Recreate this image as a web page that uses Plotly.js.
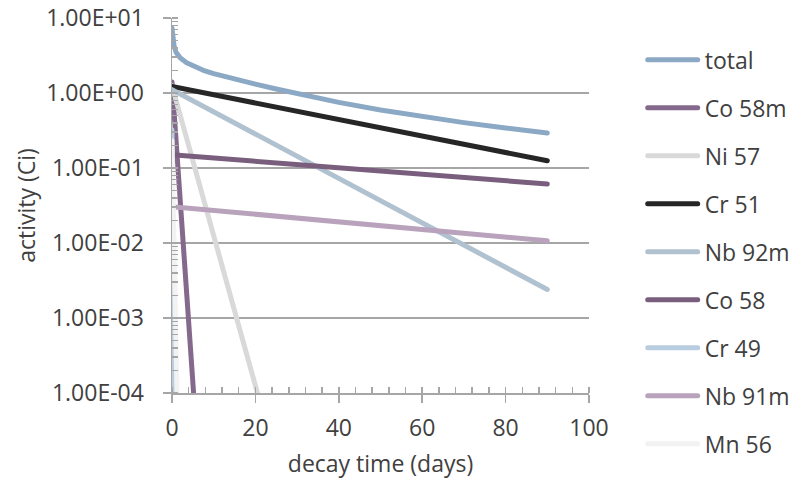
<!DOCTYPE html>
<html>
<head>
<meta charset="utf-8">
<script src="https://cdn.plot.ly/plotly-3.0.1.min.js"></script>
<style>
  html, body { margin: 0; padding: 0; background: #ffffff; }
  #chart { width: 796px; height: 483px; }
  .scatterlayer .js-line, .legendlines path { stroke-linecap: round; stroke-linejoin: round; }
</style>
</head>
<body>
<div id="chart"></div>
<script>
// Activity of each nuclide (Ci) against decay time (days)
const totalDays = [0, 0.25, 0.5, 1, 2, 3.5, 5, 7.5, 10, 15, 20, 25, 30, 40, 50, 60, 70, 80, 90];
const totalCi   = [7.36, 5.01, 4.22, 3.47, 2.92, 2.53, 2.30, 2.01, 1.81, 1.52, 1.31, 1.13, 0.977, 0.750, 0.594, 0.484, 0.403, 0.341, 0.293];

const co58mDays = [0, 1, 2, 3, 4, 5, 6];
const co58mCi   = [1.4, 0.22, 0.035, 0.0056, 0.00088, 0.00014, 0.000022];

const ni57Days = [0, 5, 10, 15, 20, 25];
const ni57Ci   = [1.25, 0.125, 0.0125, 0.00125, 0.000125, 0.0000125];

const cr51Days = [0, 30, 60, 90];
const cr51Ci   = [1.22, 0.571, 0.267, 0.125];

const nb92mDays = [0, 30, 60, 90];
const nb92mCi   = [1.11, 0.1435, 0.0186, 0.0024];

const co58Days = [0, 30, 60, 90];
const co58Ci   = [0.150, 0.111, 0.083, 0.0612];

const cr49Days = [0, 0.1, 0.2, 0.3, 0.4];
const cr49Ci   = [0.32, 0.031, 0.003, 0.00029, 0.000028];

const nb91mDays = [0, 30, 60, 90];
const nb91mCi   = [0.0305, 0.0216, 0.0152, 0.0107];

const mn56Days = [0, 0.5, 1, 1.5];
const mn56Ci   = [0.23, 0.0091, 0.00036, 0.0000145];

const seriesNames  = ['total', 'Co 58m', 'Ni 57', 'Cr 51', 'Nb 92m', 'Co 58', 'Cr 49', 'Nb 91m', 'Mn 56'];
const seriesColors = ['#8ba9c5', '#85698c', '#d9d9d9', '#262626', '#b0c1d0', '#7a5e7e', '#b9cde1', '#b9a3bc', '#f2f2f2'];
const seriesX = [totalDays, co58mDays, ni57Days, cr51Days, nb92mDays, co58Days, cr49Days, nb91mDays, mn56Days];
const seriesY = [totalCi, co58mCi, ni57Ci, cr51Ci, nb92mCi, co58Ci, cr49Ci, nb91mCi, mn56Ci];

const yTickVals = [1e-4, 1e-3, 1e-2, 1e-1, 1e0, 1e1];
const yTickText = ['1.00E-04', '1.00E-03', '1.00E-02', '1.00E-01', '1.00E+00', '1.00E+01'];
const xTickVals = [0, 20, 40, 60, 80, 100];

const FONT = 'Open Sans, sans-serif';
const TEXT = '#404040';
const AXIS = '#a6a6a6';

const traces = seriesNames.map((name, i) => ({
  type: 'scatter',
  mode: 'lines',
  name: name,
  legendgroup: 'g' + i,
  x: seriesX[i],
  y: seriesY[i],
  line: { color: seriesColors[i], width: 5 },
  hoverinfo: 'x+y+name'
}));

const layout = {
  width: 796,
  height: 483,
  margin: { l: 172, r: 207, t: 18, b: 90, pad: 0, autoexpand: false },
  paper_bgcolor: '#ffffff',
  plot_bgcolor: '#ffffff',
  font: { family: FONT, size: 23, color: TEXT },
  showlegend: true,
  legend: {
    x: 1.124, xanchor: 'left',
    y: 0.9457, yanchor: 'top',
    traceorder: 'grouped',
    tracegroupgap: 15.1,
    itemwidth: 54,
    maxheight: 470,
    bgcolor: 'rgba(0,0,0,0)',
    borderwidth: 0,
    font: { family: FONT, size: 23, color: TEXT }
  },
  xaxis: {
    range: [0, 100],
    tickmode: 'array',
    tickvals: xTickVals,
    ticks: 'outside',
    ticklen: 8,
    tickwidth: 1.5,
    tickcolor: AXIS,
    ticklabelstandoff: 6,
    showline: true,
    linecolor: AXIS,
    linewidth: 1.5,
    showgrid: false,
    zeroline: false,
    minor: { ticks: 'inside', dtick: 4, ticklen: 6, tickwidth: 1.5, tickcolor: AXIS, showgrid: false },
    title: { text: 'decay time (days)', font: { family: FONT, size: 23, color: TEXT }, standoff: 14 },
    tickfont: { family: FONT, size: 23, color: TEXT }
  },
  yaxis: {
    type: 'log',
    range: [-4, 1],
    tickmode: 'array',
    tickvals: yTickVals,
    ticktext: yTickText,
    ticks: 'outside',
    ticklen: 8,
    tickwidth: 1.5,
    tickcolor: AXIS,
    ticklabelstandoff: 14,
    showline: true,
    linecolor: AXIS,
    linewidth: 1.5,
    showgrid: true,
    gridcolor: AXIS,
    gridwidth: 1.5,
    zeroline: false,
    minor: { ticks: 'inside', dtick: 'D1', ticklen: 6, tickwidth: 1.5, tickcolor: AXIS, showgrid: false },
    title: { text: 'activity (Ci)', font: { family: FONT, size: 23, color: TEXT }, standoff: 4 },
    tickfont: { family: FONT, size: 23, color: TEXT }
  }
};

Plotly.newPlot('chart', traces, layout, { staticPlot: true, displayModeBar: false }).then(() => {
  // longer legend swatches
  document.querySelectorAll('.legendlines path').forEach(p => p.setAttribute('d', 'M7,0h50'));
});
</script>
</body>
</html>
